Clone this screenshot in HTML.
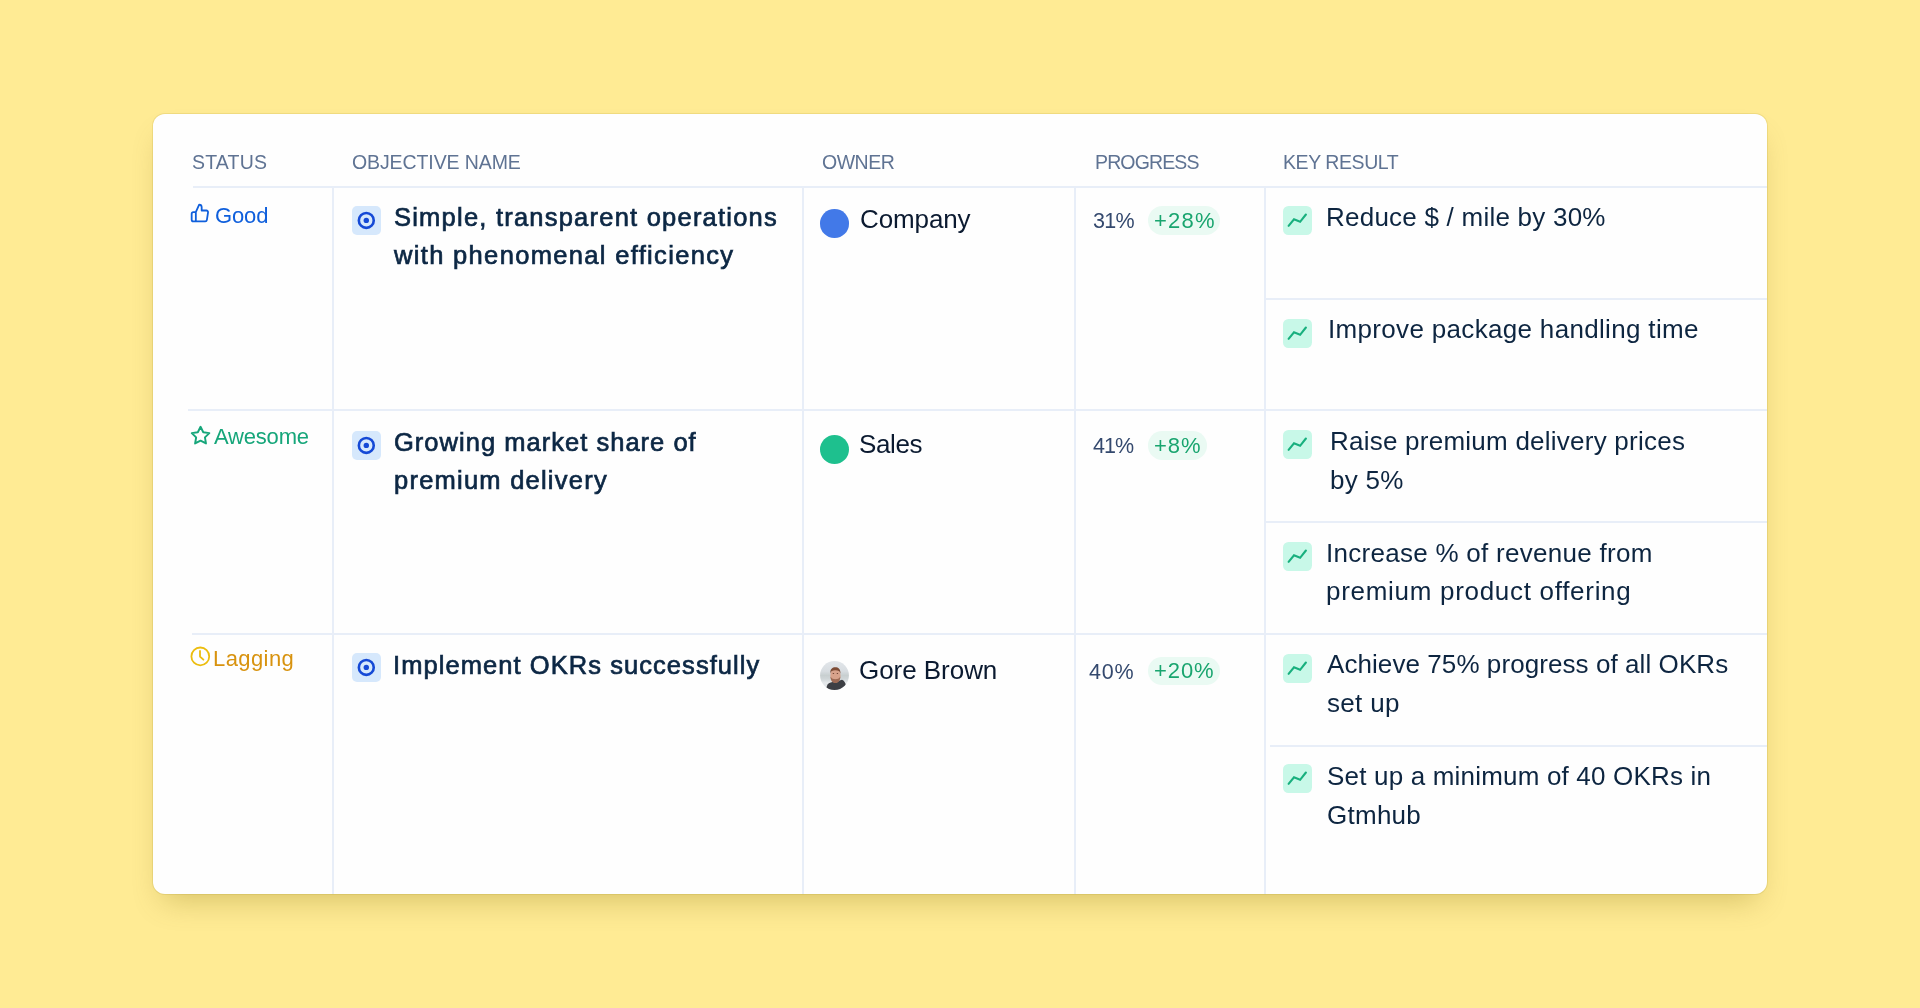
<!DOCTYPE html>
<html><head><meta charset='utf-8'><style>
html,body{margin:0;padding:0;width:1920px;height:1008px;overflow:hidden;background:#ffeb94;}
.card{position:absolute;left:153px;top:113.5px;width:1613.5px;height:780.8px;background:#fefefe;border-radius:12px;
box-shadow:0 0 0 1px rgba(150,120,0,0.13),0 16px 30px -10px rgba(120,100,0,0.30);}
.t{position:absolute;will-change:transform;font-family:"Liberation Sans",sans-serif;line-height:1;white-space:pre;}
</style></head><body>
<div class='card'></div>
<div style='position:absolute;left:193px;top:186px;width:1573.5px;height:2px;background:#e8eef8;border-radius:0px;'></div><div style='position:absolute;left:188px;top:409px;width:1578.5px;height:2px;background:#e8eef8;border-radius:0px;'></div><div style='position:absolute;left:192px;top:633px;width:1574.5px;height:2px;background:#e8eef8;border-radius:0px;'></div><div style='position:absolute;left:332px;top:187px;width:2px;height:707.3px;background:#e8eef8;border-radius:0px;'></div><div style='position:absolute;left:802px;top:187px;width:2px;height:707.3px;background:#e8eef8;border-radius:0px;'></div><div style='position:absolute;left:1074px;top:187px;width:2px;height:707.3px;background:#e8eef8;border-radius:0px;'></div><div style='position:absolute;left:1264px;top:187px;width:2px;height:707.3px;background:#e8eef8;border-radius:0px;'></div><div style='position:absolute;left:1265px;top:298px;width:501.5px;height:2px;background:#e8eef8;border-radius:0px;'></div><div style='position:absolute;left:1265px;top:521px;width:501.5px;height:2px;background:#e8eef8;border-radius:0px;'></div><div style='position:absolute;left:1270px;top:745px;width:496.5px;height:2px;background:#e8eef8;border-radius:0px;'></div><svg style='position:absolute;left:352px;top:205.5px' width='29' height='29' viewBox='0 0 29 29'><rect width='29' height='29' rx='5' fill='#d6e8fc'/><circle cx='14.3' cy='14.4' r='7.45' fill='none' stroke='#1549d6' stroke-width='2.6'/><circle cx='14.3' cy='14.4' r='2.7' fill='#1549d6'/></svg><svg style='position:absolute;left:352px;top:430.5px' width='29' height='29' viewBox='0 0 29 29'><rect width='29' height='29' rx='5' fill='#d6e8fc'/><circle cx='14.3' cy='14.4' r='7.45' fill='none' stroke='#1549d6' stroke-width='2.6'/><circle cx='14.3' cy='14.4' r='2.7' fill='#1549d6'/></svg><svg style='position:absolute;left:352px;top:652.5px' width='29' height='29' viewBox='0 0 29 29'><rect width='29' height='29' rx='5' fill='#d6e8fc'/><circle cx='14.3' cy='14.4' r='7.45' fill='none' stroke='#1549d6' stroke-width='2.6'/><circle cx='14.3' cy='14.4' r='2.7' fill='#1549d6'/></svg><svg style='position:absolute;left:1283.3px;top:206.2px' width='29' height='29' viewBox='0 0 29 29'><rect width='29' height='29' rx='5.5' fill='#c8f8e8'/><polyline points='5.6,19.8 11,13.3 17.1,15.8 22.9,8.5' fill='none' stroke='#18b07e' stroke-width='2.1' stroke-linecap='round' stroke-linejoin='miter'/></svg><svg style='position:absolute;left:1283.3px;top:318.9px' width='29' height='29' viewBox='0 0 29 29'><rect width='29' height='29' rx='5.5' fill='#c8f8e8'/><polyline points='5.6,19.8 11,13.3 17.1,15.8 22.9,8.5' fill='none' stroke='#18b07e' stroke-width='2.1' stroke-linecap='round' stroke-linejoin='miter'/></svg><svg style='position:absolute;left:1283.3px;top:429.9px' width='29' height='29' viewBox='0 0 29 29'><rect width='29' height='29' rx='5.5' fill='#c8f8e8'/><polyline points='5.6,19.8 11,13.3 17.1,15.8 22.9,8.5' fill='none' stroke='#18b07e' stroke-width='2.1' stroke-linecap='round' stroke-linejoin='miter'/></svg><svg style='position:absolute;left:1283.3px;top:542px' width='29' height='29' viewBox='0 0 29 29'><rect width='29' height='29' rx='5.5' fill='#c8f8e8'/><polyline points='5.6,19.8 11,13.3 17.1,15.8 22.9,8.5' fill='none' stroke='#18b07e' stroke-width='2.1' stroke-linecap='round' stroke-linejoin='miter'/></svg><svg style='position:absolute;left:1283.3px;top:653.9px' width='29' height='29' viewBox='0 0 29 29'><rect width='29' height='29' rx='5.5' fill='#c8f8e8'/><polyline points='5.6,19.8 11,13.3 17.1,15.8 22.9,8.5' fill='none' stroke='#18b07e' stroke-width='2.1' stroke-linecap='round' stroke-linejoin='miter'/></svg><svg style='position:absolute;left:1283.3px;top:764.2px' width='29' height='29' viewBox='0 0 29 29'><rect width='29' height='29' rx='5.5' fill='#c8f8e8'/><polyline points='5.6,19.8 11,13.3 17.1,15.8 22.9,8.5' fill='none' stroke='#18b07e' stroke-width='2.1' stroke-linecap='round' stroke-linejoin='miter'/></svg><div style='position:absolute;left:820.3px;top:209px;width:28.7px;height:28.7px;background:#4279e8;border-radius:14.35px;'></div><div style='position:absolute;left:820.1px;top:434.5px;width:29px;height:29px;background:#1ec08e;border-radius:14.5px;'></div><svg style='position:absolute;left:820px;top:660.5px' width='29' height='29' viewBox='0 0 29 29'>
<defs><clipPath id='cc'><circle cx='14.5' cy='14.5' r='14.4'/></clipPath>
<linearGradient id='bgg' x1='0' y1='0' x2='0' y2='1'><stop offset='0' stop-color='#e2e6ea'/><stop offset='0.35' stop-color='#d8dde1'/><stop offset='0.5' stop-color='#c8cfd0'/><stop offset='0.62' stop-color='#d0d6d8'/><stop offset='0.75' stop-color='#e6e9eb'/><stop offset='1' stop-color='#dfe3e6'/></linearGradient></defs>
<g clip-path='url(#cc)'>
<rect width='29' height='29' fill='url(#bgg)'/>
<path d='M5.5 29 L7.5 23.5 C9 21.5 12 21 14.5 20.8 C17.5 20.5 20 19.3 22 18.8 C24.5 20 26 22 27 29 Z' fill='#3d3f44'/>
<ellipse cx='15.4' cy='14.6' rx='5.1' ry='7.3' fill='#d8a28b'/>
<path d='M10.3 12.5 C10 8 12.5 6.3 15.3 6.3 C18.3 6.3 20.6 8 20.5 12.8 C19.8 10 18.5 9.2 15.3 9.2 C12.3 9.2 10.9 10 10.3 12.5Z' fill='#7d4c36'/>
<path d='M10.4 15.5 C10.6 20 12.8 22 15.4 22 C18 22 20.2 20 20.4 15.5 C19.2 17.6 17.5 18.2 15.4 18.2 C13.3 18.2 11.6 17.6 10.4 15.5Z' fill='#9d6a54'/>
<ellipse cx='13.4' cy='12.6' rx='0.8' ry='0.5' fill='#6b3f30'/>
<ellipse cx='17.4' cy='12.6' rx='0.8' ry='0.5' fill='#6b3f30'/>
</g></svg><div style='position:absolute;left:1148.3px;top:205.9px;width:71.5px;height:28.9px;background:#eafaf3;border-radius:14.5px;'></div><div style='position:absolute;left:1148.4px;top:431.25px;width:58.9px;height:28.55px;background:#eafaf3;border-radius:14.3px;'></div><div style='position:absolute;left:1148.4px;top:656.6px;width:71.4px;height:28.2px;background:#eafaf3;border-radius:14.1px;'></div><svg style='position:absolute;left:189.8px;top:203.0px' width='20' height='20' viewBox='0 0 24 24' fill='none' stroke='#0f5fdc' stroke-width='2.15' stroke-linecap='round' stroke-linejoin='round'><path d='M14 9V5a3 3 0 0 0-3-3l-4 9v11h11.28a2 2 0 0 0 2-1.7l1.38-9a2 2 0 0 0-2-2.3zM7 22H4a2 2 0 0 1-2-2v-7a2 2 0 0 1 2-2h3'/></svg><svg style='position:absolute;left:189.6px;top:425.3px' width='21.1' height='21.1' viewBox='0 0 24 24' fill='none' stroke='#16a67a' stroke-width='2.2' stroke-linecap='round' stroke-linejoin='round'><polygon points='12 2 15.09 8.26 22 9.27 17 14.14 18.18 21.02 12 17.77 5.82 21.02 7 14.14 2 9.27 8.91 8.26 12 2'/></svg><svg style='position:absolute;left:190px;top:646px' width='21' height='21' viewBox='0 0 21 21' fill='none' stroke='#ecbd0e' stroke-width='1.8' stroke-linecap='round' stroke-linejoin='round'><circle cx='10.3' cy='10.4' r='8.9'/><polyline points='10,5 10,10.6 13.4,13.7'/></svg>
<div class='t' style='left:191.50px;top:153.00px;font-size:19.5px;font-weight:400;letter-spacing:0.180px;color:#5f7393'>STATUS</div><div class='t' style='left:352.00px;top:153.00px;font-size:19.5px;font-weight:400;letter-spacing:-0.100px;color:#5f7393'>OBJECTIVE NAME</div><div class='t' style='left:822.10px;top:153.00px;font-size:19.5px;font-weight:400;letter-spacing:-0.475px;color:#5f7393'>OWNER</div><div class='t' style='left:1094.70px;top:153.00px;font-size:19.5px;font-weight:400;letter-spacing:-0.857px;color:#5f7393'>PROGRESS</div><div class='t' style='left:1283.30px;top:153.00px;font-size:19.5px;font-weight:400;letter-spacing:-0.433px;color:#5f7393'>KEY RESULT</div><div class='t' style='left:215.25px;top:205.00px;font-size:22px;font-weight:400;letter-spacing:-0.150px;color:#0f5fdc'>Good</div><div class='t' style='left:214.10px;top:426.00px;font-size:22px;font-weight:400;letter-spacing:-0.200px;color:#16a67a'>Awesome</div><div class='t' style='left:213.00px;top:648.00px;font-size:22px;font-weight:400;letter-spacing:0.417px;color:#d8930f'>Lagging</div><div class='t' style='left:393.50px;top:205.00px;font-size:25.5px;font-weight:400;-webkit-text-stroke:0.7px #0c2744;letter-spacing:1.224px;color:#0c2744'>Simple, transparent operations</div><div class='t' style='left:393.50px;top:243.00px;font-size:25.5px;font-weight:400;-webkit-text-stroke:0.7px #0c2744;letter-spacing:1.332px;color:#0c2744'>with phenomenal efficiency</div><div class='t' style='left:393.60px;top:430.00px;font-size:25.5px;font-weight:400;-webkit-text-stroke:0.7px #0c2744;letter-spacing:1.023px;color:#0c2744'>Growing market share of</div><div class='t' style='left:393.60px;top:468.00px;font-size:25.5px;font-weight:400;-webkit-text-stroke:0.7px #0c2744;letter-spacing:1.233px;color:#0c2744'>premium delivery</div><div class='t' style='left:393.40px;top:653.00px;font-size:25.5px;font-weight:400;-webkit-text-stroke:0.7px #0c2744;letter-spacing:1.062px;color:#0c2744'>Implement OKRs successfully</div><div class='t' style='left:860.40px;top:206.00px;font-size:26px;font-weight:400;letter-spacing:-0.117px;color:#0b1a30'>Company</div><div class='t' style='left:858.70px;top:431.00px;font-size:26px;font-weight:400;letter-spacing:-0.400px;color:#0b1a30'>Sales</div><div class='t' style='left:858.80px;top:657.00px;font-size:26px;font-weight:400;letter-spacing:-0.044px;color:#0b1a30'>Gore Brown</div><div class='t' style='left:1092.60px;top:211.00px;font-size:21.5px;font-weight:400;letter-spacing:-0.700px;color:#34496e'>31%</div><div class='t' style='left:1092.90px;top:436.00px;font-size:21.5px;font-weight:400;letter-spacing:-1.000px;color:#34496e'>41%</div><div class='t' style='left:1089.20px;top:662.00px;font-size:21.5px;font-weight:400;letter-spacing:0.850px;color:#34496e'>40%</div><div class='t' style='left:1153.50px;top:210.00px;font-size:22px;font-weight:400;letter-spacing:1.200px;color:#19a56f'>+28%</div><div class='t' style='left:1153.60px;top:435.00px;font-size:22px;font-weight:400;letter-spacing:0.950px;color:#19a56f'>+8%</div><div class='t' style='left:1153.60px;top:660.00px;font-size:22px;font-weight:400;letter-spacing:0.933px;color:#19a56f'>+20%</div><div class='t' style='left:1326.10px;top:204.00px;font-size:26px;font-weight:400;letter-spacing:0.233px;color:#0d2540'>Reduce $ / mile by 30%</div><div class='t' style='left:1327.70px;top:316.00px;font-size:26px;font-weight:400;letter-spacing:0.325px;color:#0d2540'>Improve package handling time</div><div class='t' style='left:1330.10px;top:428.00px;font-size:26px;font-weight:400;letter-spacing:0.238px;color:#0d2540'>Raise premium delivery prices</div><div class='t' style='left:1330.10px;top:467.00px;font-size:26px;font-weight:400;letter-spacing:0.275px;color:#0d2540'>by 5%</div><div class='t' style='left:1326.10px;top:540.00px;font-size:26px;font-weight:400;letter-spacing:0.280px;color:#0d2540'>Increase % of revenue from</div><div class='t' style='left:1326.10px;top:578.00px;font-size:26px;font-weight:400;letter-spacing:0.704px;color:#0d2540'>premium product offering</div><div class='t' style='left:1327.00px;top:651.00px;font-size:26px;font-weight:400;letter-spacing:0.074px;color:#0d2540'>Achieve 75% progress of all OKRs</div><div class='t' style='left:1327.00px;top:690.00px;font-size:26px;font-weight:400;letter-spacing:0.320px;color:#0d2540'>set up</div><div class='t' style='left:1327.10px;top:763.00px;font-size:26px;font-weight:400;letter-spacing:0.186px;color:#0d2540'>Set up a minimum of 40 OKRs in</div><div class='t' style='left:1327.10px;top:802.00px;font-size:26px;font-weight:400;letter-spacing:0.260px;color:#0d2540'>Gtmhub</div>
</body></html>
